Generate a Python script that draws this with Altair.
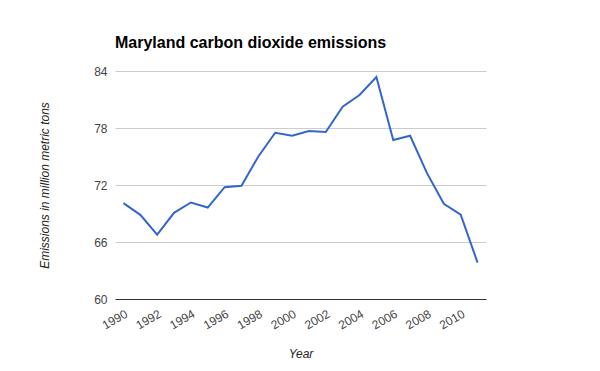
import altair as alt
import pandas as pd

years = list(range(1990, 2012))
emissions = [70.09, 68.86, 66.78, 69.07, 70.16, 69.63, 71.77, 71.91, 75.0, 77.5,
             77.18, 77.68, 77.57, 80.24, 81.47, 83.37, 76.73, 77.18, 73.25, 70.02,
             68.89, 63.83]
tick_years = list(range(1990, 2011, 2))
y_ticks = [60, 66, 72, 78, 84]

df = pd.DataFrame({"Year": years, "Emissions": emissions})

FONT = "Liberation Sans"

chart = alt.Chart(df).mark_line(color="#3366cc", strokeWidth=2).encode(
    x=alt.X("Year:O",
            scale=alt.Scale(paddingInner=0, paddingOuter=0, align=0.5),
            axis=alt.Axis(values=tick_years, labelAngle=-30, labelAlign="right",
                          labelBaseline="top", ticks=False, domainColor="#333333",
                          labelColor="#444444", labelFontSize=12, labelFont=FONT,
                          labelPadding=9, title="Year", titleFont=FONT,
                          titleFontStyle="italic", titleFontWeight="normal",
                          titleFontSize=12, titleColor="#222222", titlePadding=18)),
    y=alt.Y("Emissions:Q",
            scale=alt.Scale(domain=[60, 84], nice=False, zero=False),
            axis=alt.Axis(values=y_ticks, ticks=False, domain=False, gridColor="#cccccc",
                          labelColor="#444444", labelFontSize=12, labelFont=FONT,
                          labelPadding=8, title="Emissions in million metric tons",
                          titleFont=FONT, titleFontStyle="italic", titleFontWeight="normal",
                          titleFontSize=12, titleColor="#222222", titlePadding=42)),
).properties(
    width=371,
    height=228,
    title=alt.TitleParams("Maryland carbon dioxide emissions", anchor="start",
                          frame="group",
                          font=FONT, fontSize=16, fontWeight="bold", color="#000000",
                          offset=14),
    autosize=alt.AutoSizeParams(type="none"),
    padding={"left": 107, "top": 63, "right": 106, "bottom": 64},
).configure_view(stroke=None)

chart.save("out.html", embed_options={"renderer": "svg", "actions": False})
